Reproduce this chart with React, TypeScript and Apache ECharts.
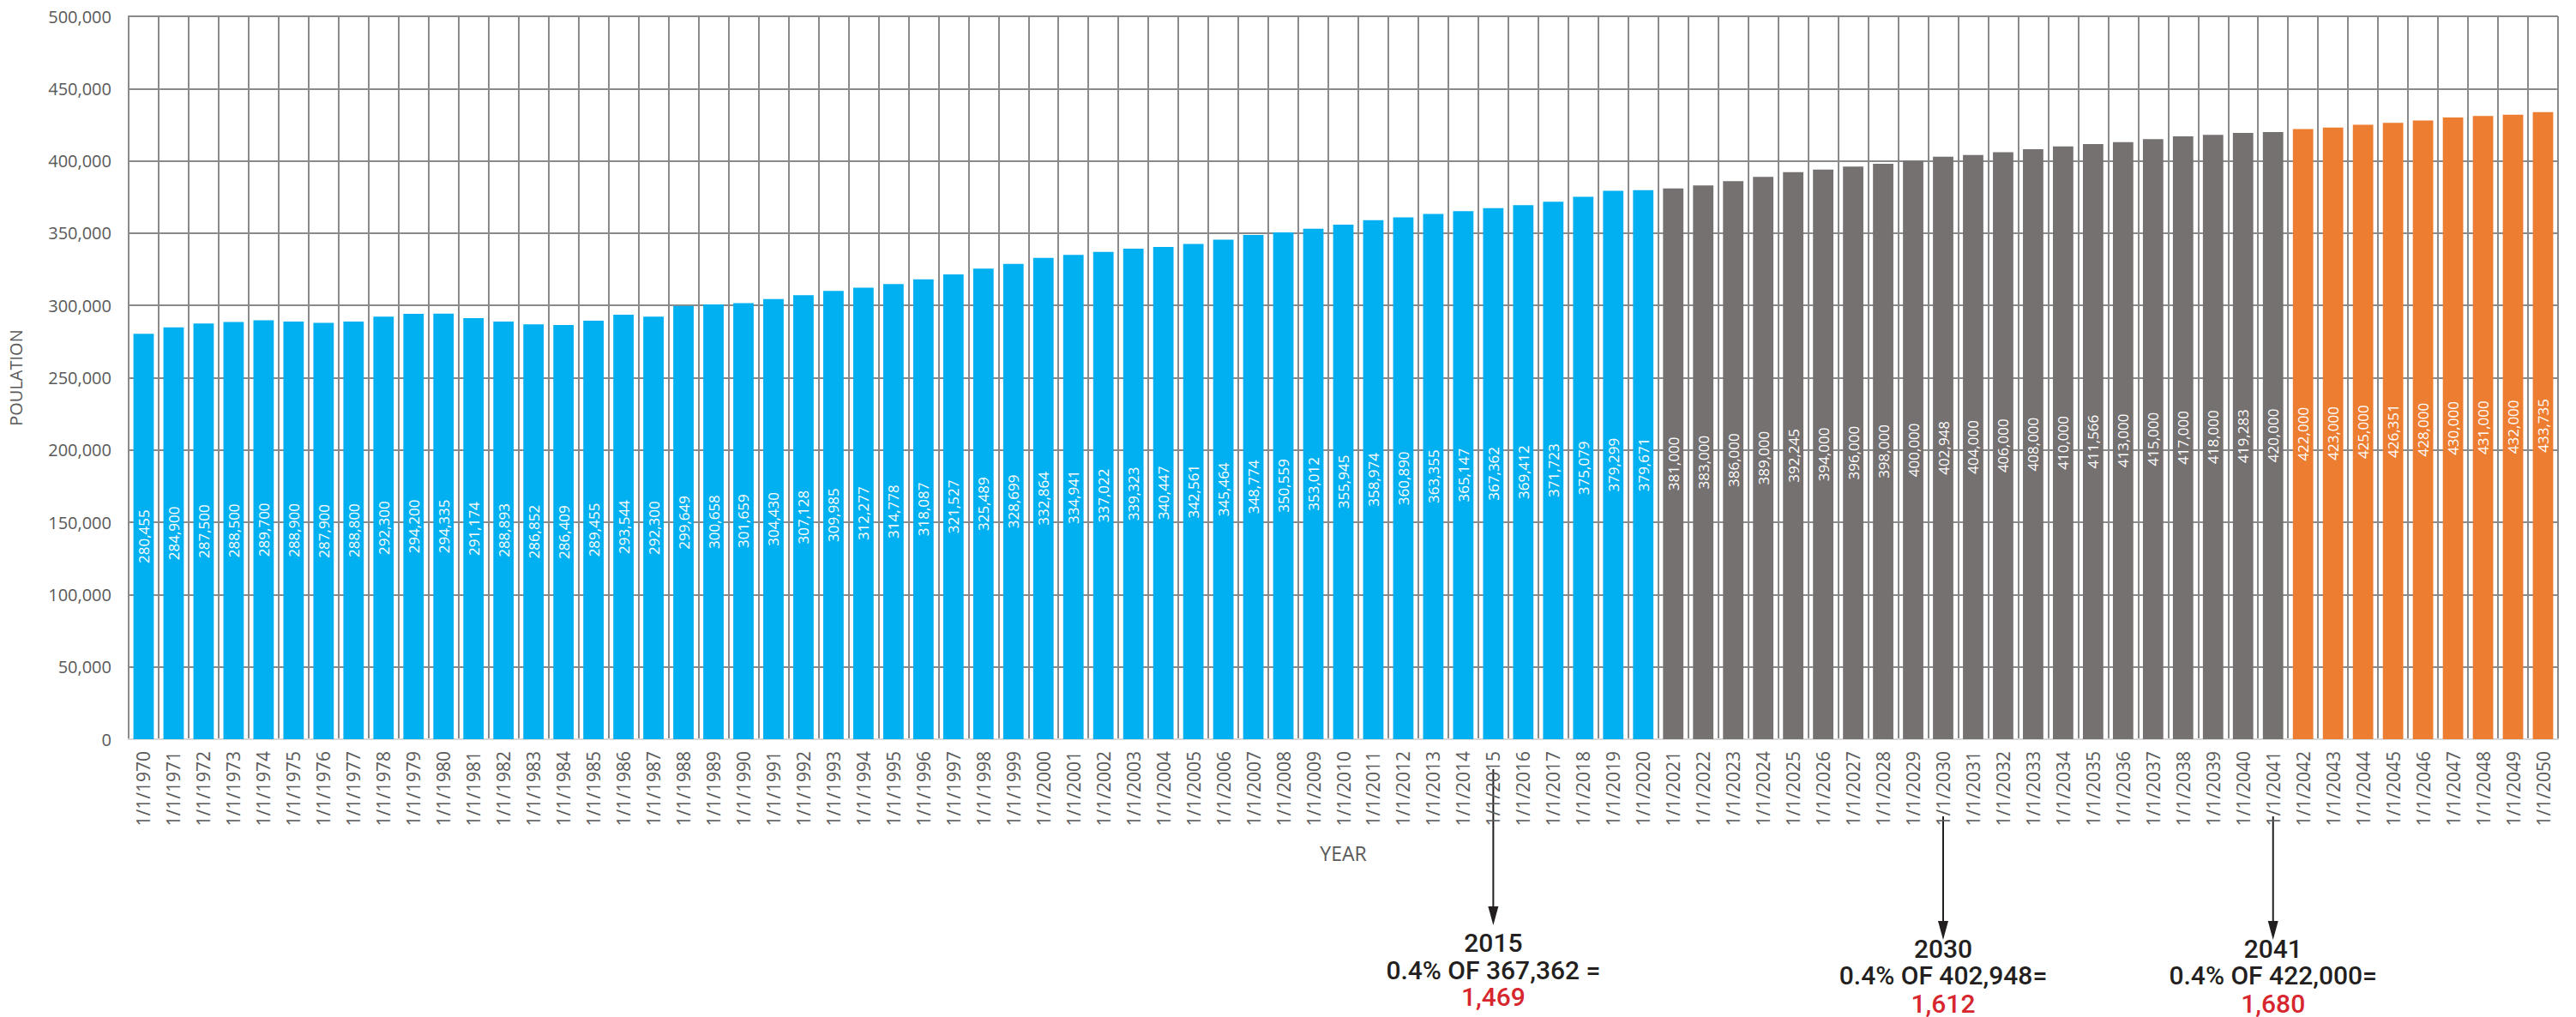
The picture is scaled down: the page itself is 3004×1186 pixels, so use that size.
import React, { useEffect, useRef } from 'react';
import * as echarts from 'echarts';

const firstYear = 1970;
const lastYear = 2050;
const categories: string[] = [];
for (let y = firstYear; y <= lastYear; y++) categories.push(`1/1/${y}`);

// 1970–2020 (historical, blue)
const historical = [
  280455, 284900, 287500, 288500, 289700, 288900, 287900, 288800, 292300, 294200,
  294335, 291174, 288893, 286852, 286409, 289455, 293544, 292300, 299649, 300658,
  301659, 304430, 307128, 309985, 312277, 314778, 318087, 321527, 325489, 328699,
  332864, 334941, 337022, 339323, 340447, 342561, 345464, 348774, 350559, 353012,
  355945, 358974, 360890, 363355, 365147, 367362, 369412, 371723, 375079, 379299,
  379671,
];
// 2021–2041 (projection, gray)
const projected = [
  381000, 383000, 386000, 389000, 392245, 394000, 396000, 398000, 400000, 402948,
  404000, 406000, 408000, 410000, 411566, 413000, 415000, 417000, 418000, 419283,
  420000,
];
// 2042–2050 (extended projection, orange)
const extended = [422000, 423000, 425000, 426351, 428000, 430000, 431000, 432000, 433735];

const yTicks = { min: 0, max: 500000, interval: 50000 };

const annotations = [
  { category: '1/1/2015', title: '2015', formula: '0.4% OF 367,362 =', result: '1,469' },
  { category: '1/1/2030', title: '2030', formula: '0.4% OF 402,948=', result: '1,612' },
  { category: '1/1/2041', title: '2041', formula: '0.4% OF 422,000=', result: '1,680' },
];
// layout of the annotations (pixels)
const annotationLayout = [
  { top: 897, tip: 1079, y1: 1099, y2: 1131, y3: 1162 },
  { top: 952, tip: 1096, y1: 1106, y2: 1137, y3: 1170 },
  { top: 952, tip: 1096, y1: 1106, y2: 1137, y3: 1170 },
];

const COLORS = { historical: '#00b0f0', projected: '#767171', extended: '#ed7d31' };
const fmt = (v: number) => v.toLocaleString('en-US');

export default function App() {
  const ref = useRef<HTMLDivElement>(null);
  useEffect(() => {
    if (!ref.current) return;
    const chart = echarts.init(ref.current, null, { renderer: 'svg' });
    const data = [
      ...historical.map((v) => ({ value: v, itemStyle: { color: COLORS.historical } })),
      ...projected.map((v) => ({ value: v, itemStyle: { color: COLORS.projected } })),
      ...extended.map((v) => ({ value: v, itemStyle: { color: COLORS.extended } })),
    ];
    const axisFont = "'Open Sans', 'DejaVu Sans', sans-serif";
    chart.setOption({
      animation: false,
      backgroundColor: '#ffffff',
      grid: { left: 149, right: 21, top: 19, bottom: 324, containLabel: false },
      xAxis: {
        type: 'category',
        data: categories,
        name: 'YEAR',
        nameLocation: 'middle',
        nameGap: 121,
        nameTextStyle: { color: '#595959', fontSize: 23, fontFamily: axisFont },
        axisLine: { show: true, lineStyle: { color: '#d9d9d9', width: 2 } },
        axisTick: { show: false },
        axisLabel: {
          interval: 0,
          rotate: 90,
          margin: 14,
          color: '#595959',
          fontSize: 21,
          fontFamily: axisFont,
        },
        splitLine: { show: true, interval: 0, lineStyle: { color: '#8a8a8a', width: 2 } },
      },
      yAxis: {
        type: 'value',
        min: yTicks.min,
        max: yTicks.max,
        interval: yTicks.interval,
        name: 'POULATION',
        nameLocation: 'middle',
        nameGap: 122,
        nameRotate: 90,
        nameTextStyle: { color: '#595959', fontSize: 20, fontFamily: axisFont },
        axisLine: { show: true, lineStyle: { color: '#8a8a8a', width: 2 } },
        axisTick: { show: false },
        axisLabel: {
          margin: 20,
          color: '#595959',
          fontSize: 20,
          fontFamily: axisFont,
          formatter: (v: number) => fmt(v),
        },
        splitLine: { show: true, lineStyle: { color: '#8a8a8a', width: 2 } },
      },
      series: [
        {
          type: 'bar',
          data,
          barCategoryGap: '32%',
          label: {
            show: true,
            position: 'inside',
            rotate: 90,
            color: '#ffffff',
            fontSize: 17,
            fontFamily: "'Open Sans', sans-serif",
            formatter: (p: any) => fmt(p.value),
          },
        },
      ],
    });

    const textFont = "Roboto, 'Open Sans', sans-serif";
    const graphic: any[] = [];
    annotations.forEach((a, i) => {
      const L = annotationLayout[i];
      const x = chart.convertToPixel({ xAxisIndex: 0 }, a.category) as number;
      graphic.push({
        type: 'line',
        shape: { x1: x, y1: L.top, x2: x, y2: L.tip - 18 },
        style: { stroke: '#231f20', lineWidth: 2 },
      });
      graphic.push({
        type: 'polygon',
        shape: { points: [[x - 6, L.tip - 22], [x + 6, L.tip - 22], [x, L.tip]] },
        style: { fill: '#231f20' },
      });
      const lines = [
        { t: a.title, y: L.y1, c: '#231f20' },
        { t: a.formula, y: L.y2, c: '#231f20' },
        { t: a.result, y: L.y3, c: '#d7262e' },
      ];
      lines.forEach((ln) => {
        graphic.push({
          type: 'text',
          x,
          y: ln.y,
          style: {
            text: ln.t,
            fill: ln.c,
            fontSize: 30,
            fontWeight: 500,
            fontFamily: textFont,
            textAlign: 'center',
            textVerticalAlign: 'middle',
            align: 'center',
            verticalAlign: 'middle',
          },
        });
      });
    });
    chart.setOption({ graphic });

    return () => chart.dispose();
  }, []);
  return (
    <div
      ref={ref}
      style={{ position: 'fixed', left: 0, top: 0, width: 3004, height: 1186, background: '#fff' }}
    />
  );
}
